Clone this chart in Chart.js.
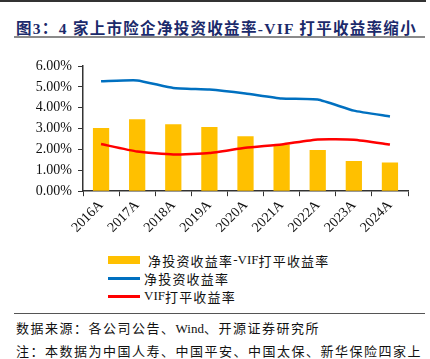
<!DOCTYPE html>
<html>
<head>
<meta charset="utf-8">
<script src="https://cdn.jsdelivr.net/npm/chart.js@4/dist/chart.umd.min.js"></script>
<style>
  html, body { margin: 0; padding: 0; background: #fff; }
  body { width: 430px; height: 359px; position: relative; overflow: hidden;
         font-family: "Liberation Serif", "Noto Sans CJK SC", serif; }
  #topline { position: absolute; left: 0; top: 0; width: 426px; height: 2px; background: #333; }
  #title { position: absolute; left: 16px; top: 16px; font-size: 15.5px; font-weight: bold;
           color: #1b2a6b; white-space: nowrap; letter-spacing: 1.3px; }
  #titleline { position: absolute; left: 14px; top: 36px; width: 411px; height: 2px; background: #8a8a8a; }
  #wrap { position: absolute; left: 0; top: 50px; width: 430px; height: 187px; }
  #legend { position: absolute; left: 108px; top: 251px; font-size: 13px; color: #111; letter-spacing: 1.2px; }
  .item { height: 18px; display: flex; align-items: center; white-space: nowrap; }
  .sw { width: 32px; margin-right: 4px; }
  .lat { letter-spacing: 0; }
  #footline { position: absolute; left: 14px; top: 313px; width: 411px; height: 1px; background: #555; }
  .foot { position: absolute; left: 16px; font-size: 13px; color: #111; white-space: nowrap; letter-spacing: 1.5px; }
</style>
</head>
<body>
<div id="topline"></div>
<div id="title">图3：4 家上市险企净投资收益率-VIF 打平收益率缩小</div>
<div id="titleline"></div>
<div id="wrap"><canvas id="c" width="430" height="187"></canvas></div>
<div id="legend"></div>
<div id="footline"></div>
<div class="foot" style="top:318px">数据来源：各公司公告、<span class="lat">Wind</span>、开源证券研究所</div>
<div class="foot" style="top:341px">注：本数据为中国人寿、中国平安、中国太保、新华保险四家上</div>
<script>
const years = ["2016A", "2017A", "2018A", "2019A", "2020A", "2021A", "2022A", "2023A", "2024A"];
const spread = [3.03, 3.45, 3.21, 3.08, 2.63, 2.24, 1.97, 1.45, 1.37];
const netInvYield = [5.27, 5.31, 4.95, 4.87, 4.68, 4.44, 4.39, 3.86, 3.58];
const vifBreakeven = [2.26, 1.90, 1.76, 1.83, 2.08, 2.24, 2.48, 2.47, 2.24];
const yTicks = [0, 1, 2, 3, 4, 5, 6];

const axisFont = { family: "Liberation Serif", size: 14 };

const chart = new Chart(document.getElementById("c"), {
  data: {
    labels: years,
    datasets: [
      {
        type: "line",
        label: "净投资收益率",
        data: netInvYield,
        borderColor: "#0070c0",
        borderWidth: 2.5,
        pointRadius: 0,
        tension: 0.15,
        order: 1,
      },
      {
        type: "line",
        label: "VIF打平收益率",
        data: vifBreakeven,
        borderColor: "#ff0000",
        borderWidth: 2.5,
        pointRadius: 0,
        tension: 0.15,
        order: 0,
      },
      {
        type: "bar",
        label: "净投资收益率-VIF打平收益率",
        data: spread,
        backgroundColor: "#ffc000",
        categoryPercentage: 0.9,
        barPercentage: 0.5,
        order: 2,
      },
    ],
  },
  options: {
    responsive: false,
    animation: false,
    layout: { padding: { left: 0, right: 22, top: 16, bottom: 0 } },
    plugins: { legend: { display: false }, tooltip: { enabled: false } },
    scales: {
      x: {
        offset: true,
        grid: { display: true, offset: true, drawOnChartArea: false, drawTicks: true, tickLength: 5, color: "#333" },
        border: { color: "#333", width: 1.5 },
        ticks: { color: "#111", font: axisFont, maxRotation: 45, minRotation: 45, padding: 1 },
      },
      y: {
        min: 0,
        max: 6,
        afterBuildTicks: (axis) => { axis.ticks = yTicks.map((v) => ({ value: v })); },
        grid: { display: true, drawOnChartArea: false, drawTicks: true, tickLength: 5, color: "#333" },
        border: { color: "#333", width: 1.5 },
        ticks: { color: "#111", font: axisFont, padding: 6, callback: (v) => v.toFixed(2) + "%" },
        afterFit: (axis) => { axis.width = 83; },
      },
    },
  },
});

// legend in the original stacked order
const legend = document.getElementById("legend");
[chart.data.datasets[2], chart.data.datasets[0], chart.data.datasets[1]].forEach((ds) => {
  const row = document.createElement("div");
  row.className = "item";
  const sw = document.createElement("span");
  sw.className = "sw";
  if (ds.type === "bar") {
    sw.style.height = "8px";
    sw.style.background = ds.backgroundColor;
    sw.style.marginRight = "8px";
  } else {
    sw.style.height = "3px";
    sw.style.background = ds.borderColor;
  }
  row.appendChild(sw);
  // keep latin letters unspaced, as in the source
  ds.label.split(/(-?VIF)/).forEach((part) => {
    if (!part) return;
    const s = document.createElement("span");
    if (/VIF/.test(part)) s.className = "lat";
    s.textContent = part;
    row.appendChild(s);
  });
  legend.appendChild(row);
});
</script>
</body>
</html>
